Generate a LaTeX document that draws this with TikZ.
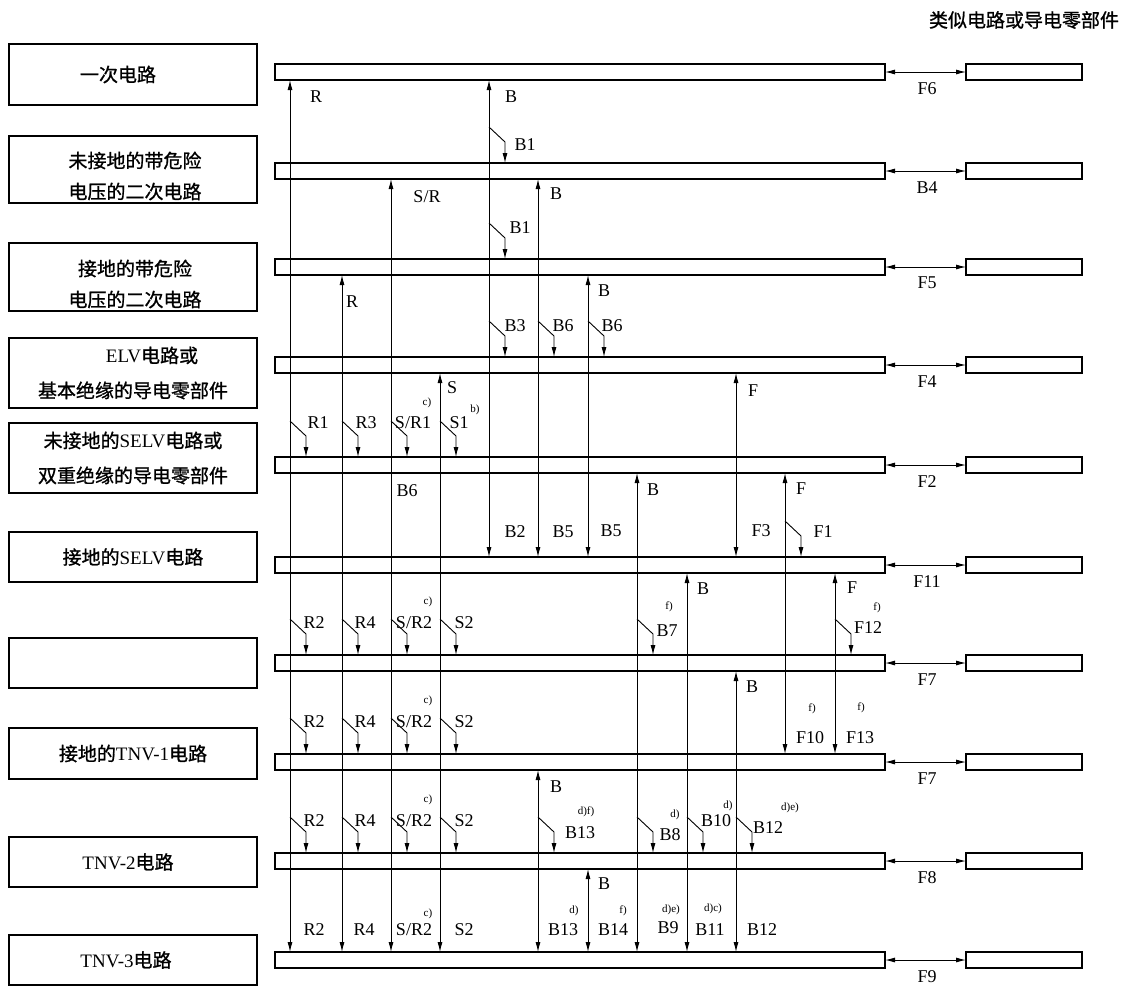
\documentclass[tikz,border=0pt]{standalone}
\usepackage{fontspec}
\setmainfont{Liberation Serif}
\newfontfamily\cjk{Noto Sans CJK SC}[FakeBold=1]
\usetikzlibrary{calc, arrows.meta, positioning}

\newcommand{\rmtxt}[1]{{\rmfamily #1}}

\tikzset{
	bar/.style = {draw, line width = 1.2pt, minimum width = 610pt, minimum height = 16pt, inner sep = 0pt, outer sep = 0pt},
	stub/.style = {bar, minimum width = 116pt},
	circuit/.style = {draw, line width = 1.2pt, minimum width = 248pt, align = center, inner sep = 0pt, outer sep = 0pt, font = \cjk\fontsize{19}{35}\selectfont},
	circuittext/.style = {align = center, inner sep = 0pt, font = \cjk\fontsize{19}{31}\selectfont},
	tag/.style = {inner sep = 0pt, font = \fontsize{18}{18}\selectfont},
	note/.style = {inner sep = 0pt, font = \fontsize{11}{11}\selectfont},
	link/.style = {line width = 0.9pt, {Latex[length = 10pt, width = 5pt]}-{Latex[length = 10pt, width = 5pt]}},
	feed/.style = {line width = 0.9pt, -{Latex[length = 10pt, width = 5pt]}},
}

% a kinked arrow leaving a line and ending on the top of a bar
\newcommand{\branchto}[2]{\draw [feed] ($ (#1 |- #2.north) + (0,-36) $) -- ++(16,15) -- ($ (#1 |- #2.north) + (16,0) $);}

\begin{document}
\begin{tikzpicture}[x = 1pt, y = -1pt]
	\useasboundingbox (0,0) rectangle (1129,986);
	
	% circuit names on the left
	\node [circuit, minimum height = 61pt] (name1) at (133,74.5) {一次电路\hspace*{30pt}};
	\node [circuit, minimum height = 67pt] (name2) at (133,169.5) {};
	\node [circuittext] (text2) at (135,176) {未接地的带危险\\电压的二次电路};
	\node [circuit, minimum height = 68pt] (name3) at (133,277) {};
	\node [circuittext] (text3) at (135,284) {接地的带危险\\电压的二次电路};
	\node [circuit, minimum height = 70pt] (name4) at (133,373) {\hspace*{38pt}\rmtxt{ELV}电路或\\基本绝缘的导电零部件};
	\node [circuit, minimum height = 70pt] (name5) at (133,458) {未接地的\rmtxt{SELV}电路或\\双重绝缘的导电零部件};
	\node [circuit, minimum height = 50pt] (name6) at (133,557) {接地的\rmtxt{SELV}电路};
	\node [circuit, minimum height = 50pt] (name7) at (133,663) {};
	\node [circuit, minimum height = 51pt] (name8) at (133,753.5) {接地的\rmtxt{TNV-1}电路};
	\node [circuit, minimum height = 50pt] (name9) at (133,862) {\rmtxt{TNV-2}电路\hspace*{10pt}};
	\node [circuit, minimum height = 50pt] (name10) at (133,960) {\rmtxt{TNV-3}电路\hspace*{14pt}};
	
	\node [font = \cjk\fontsize{19}{19}\selectfont, inner sep = 0pt] (similar) at (1024,20) {类似电路或导电零部件};
	
	% bars, stubs and the links between them
	\coordinate (fcol) at (927,0);
	\foreach \n/\y/\t in {1/72/F6, 2/171/B4, 3/267/F5, 4/365/F4, 5/465/F2, 6/565/F11, 7/663/F7, 8/762/F7, 9/861/F8, 10/960/F9} {
		\node [bar] (bar\n) at (580,\y) {};
		\node [stub] (stub\n) at (1024,\y) {};
		\draw [link] (bar\n.east) -- (stub\n.west);
		\node [tag, below = 2pt] (gap\n) at (fcol |- bar\n.south) {\t};
	}
	
	% columns
	\foreach \n/\x in {1/290, 2/342, 3/391, 4/440, 5/489, 6/538, 7/588, 8/637, 9/687, 10/736, 11/785, 12/835}
		\coordinate (c\n) at (\x,0);
	
	% straight lines: column / from bar / to bar
	\foreach \c/\a/\b in {1/1/10, 2/3/10, 3/2/10, 4/4/10, 5/1/6, 6/2/6, 7/3/6, 8/5/10, 9/6/10, 10/4/6, 11/5/8, 12/6/8, 10/7/10, 6/8/10, 7/9/10}
		\draw [link] (c\c |- bar\a.south) -- (c\c |- bar\b.north);
	
	% kinked arrows
	\foreach \c/\b in {5/2, 5/3, 5/4, 6/4, 7/4, 1/5, 2/5, 3/5, 4/5, 11/6, 8/7, 12/7, 6/9, 8/9, 9/9, 10/9} {
		\branchto{c\c}{bar\b}
	}
	\foreach \b in {7,8,9} {
		\foreach \c in {1,2,3,4} {
			\branchto{c\c}{bar\b}
		}
	}
	
	% labels at the upper ends
	\foreach \x/\y/\t [count = \i] in {316/97/R, 511/97/B, 556/194/B, 352/302/R, 604/291/B, 452/388/S, 753/391/F, 653/490/B, 801/489/F, 703/589/B, 852/588/F, 752/687/B, 556/787/B, 604/884/B}
		\node [tag] (up\i) at (\x,\y) {\t};
	\node [tag] (upSR) at (427,197) {S/R};
	
	% labels at the lower ends
	\foreach \x/\y/\t [count = \i] in {515/532/B2, 563/532/B5, 611/531/B5, 761/531/F3, 810/738/F10, 860/738/F13, 314/930/R2, 364/930/R4, 464/930/S2, 563/930/B13, 613/930/B14, 668/928/B9, 710/930/B11, 762/930/B12, 407/491/B6}
		\node [tag] (down\i) at (\x,\y) {\t};
	\node [tag] (downSR) at (414,930) {S/R2};
	
	% labels of the kinked arrows
	\foreach \x/\y/\t [count = \i] in {525/145/B1, 520/228/B1, 515/326/B3, 563/326/B6, 612/326/B6, 318/423/R1, 366/423/R3, 459/423/S1, 823/532/F1, 667/631/B7, 868/628/F12, 580/833/B13, 670/835/B8, 716/821/B10, 768/828/B12}
		\node [tag] (side\i) at (\x,\y) {\t};
	\node [tag] (sideSR) at (413,423) {S/R1};
	\foreach \y [count = \i] in {623, 722, 821} {
		\node [tag] (rowR\i) at (314,\y) {R2};
		\node [tag] (rowRR\i) at (365,\y) {R4};
		\node [tag] (rowSR\i) at (414,\y) {S/R2};
		\node [tag] (rowS\i) at (464,\y) {S2};
		\node [note] (rowc\i) at (428,\y-21) {c)};
	}
	
	% footnote marks
	\foreach \x/\y/\t [count = \i] in {427/403/{c)}, 475/410/{b)}, 669/607/{f)}, 877/608/{f)}, 812/709/{f)}, 861/708/{f)}, 586/812/{d)f)}, 675/815/{d)}, 728/806/{d)}, 790/808/{d)e)}, 428/914/{c)}, 574/911/{d)}, 623/911/{f)}, 671/910/{d)e)}, 713/909/{d)c)}}
		\node [note] (note\i) at (\x,\y) {\t};
\end{tikzpicture}
\end{document}
